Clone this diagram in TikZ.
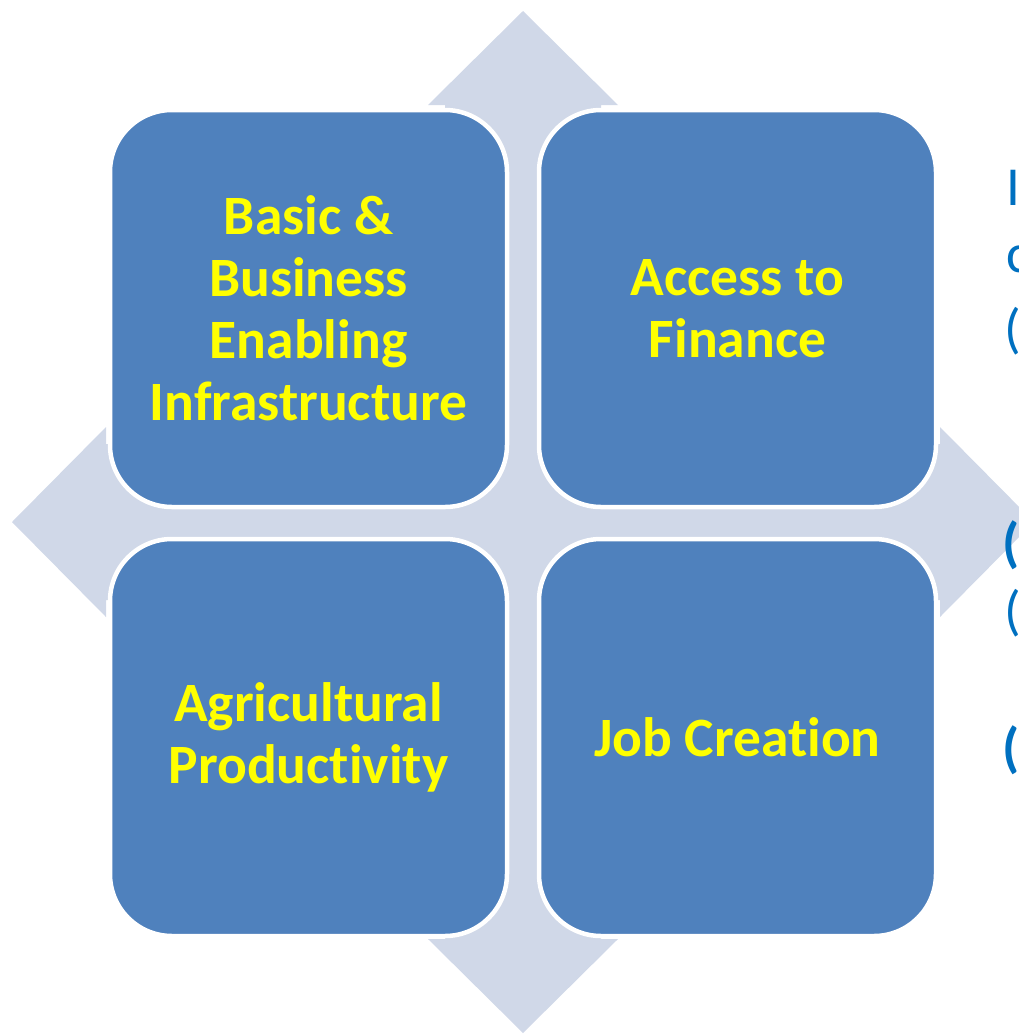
\documentclass[tikz,border=0pt]{standalone}
\usepackage{fontspec}
\setmainfont{Carlito}[Ligatures=NoCommon]
\definecolor{boxblue}{HTML}{4F81BD}
\definecolor{arrowgray}{HTML}{D0D8E8}
\definecolor{txtyellow}{HTML}{FFFF00}
\definecolor{sideblue}{HTML}{0070C0}
\tikzset{
  cell/.style={fill=boxblue, draw=white, line width=4.5pt, rounded corners=62pt,
    minimum width=397pt, minimum height=397pt, inner sep=0pt, align=center,
    text=txtyellow, font=\fontsize{55.5}{62}\selectfont\bfseries},
  sidetext/.style={anchor=base west, inner sep=0pt, text=sideblue,
    font=\fontsize{55}{66}\selectfont},
  sidebold/.style={sidetext, font=\fontsize{55}{66}\selectfont\bfseries}
}
\begin{document}
\begin{tikzpicture}[x=1pt,y=-1pt]
\useasboundingbox (0,0) rectangle (1019,1034);
\clip (0,0) rectangle (1019,1034);
% quad arrow behind the cells
\begin{scope}[shift={(523,522)}]
\fill[arrowgray] (0,-511) -- (95,-417) -- (78,-417) -- (78,-78) -- (417,-78) -- (417,-95)
  -- (511,0) -- (417,95) -- (417,78) -- (78,78) -- (78,417) -- (95,417)
  -- (0,511) -- (-95,417) -- (-78,417) -- (-78,78) -- (-417,78) -- (-417,95)
  -- (-511,0) -- (-417,-95) -- (-417,-78) -- (-78,-78) -- (-78,-417) -- (-95,-417) -- cycle;
\end{scope}
% cells
\node[cell] (tl) at (308.5,308.5) {Basic \&\\Business\\Enabling\\Infrastructure};
\node[cell] (tr) at (737.5,308.5) {Access to\\Finance};
\node[cell] (bl) at (308.5,737.5) {Agricultural\\Productivity};
\node[cell] (br) at (737.5,737.5) {Job Creation};
% cut-off side text
\node[sidetext] (s1) at (1006,205) {I};
\node[sidetext] (s2) at (1006,272) {c};
\node[sidetext] (s3) at (1004,347) {(};
\node[sidebold] (s4) at (1002,561) {(};
\node[sidetext] (s5) at (1004,629) {(};
\node[sidebold] (s6) at (1002,766) {(};
\end{tikzpicture}
\end{document}
